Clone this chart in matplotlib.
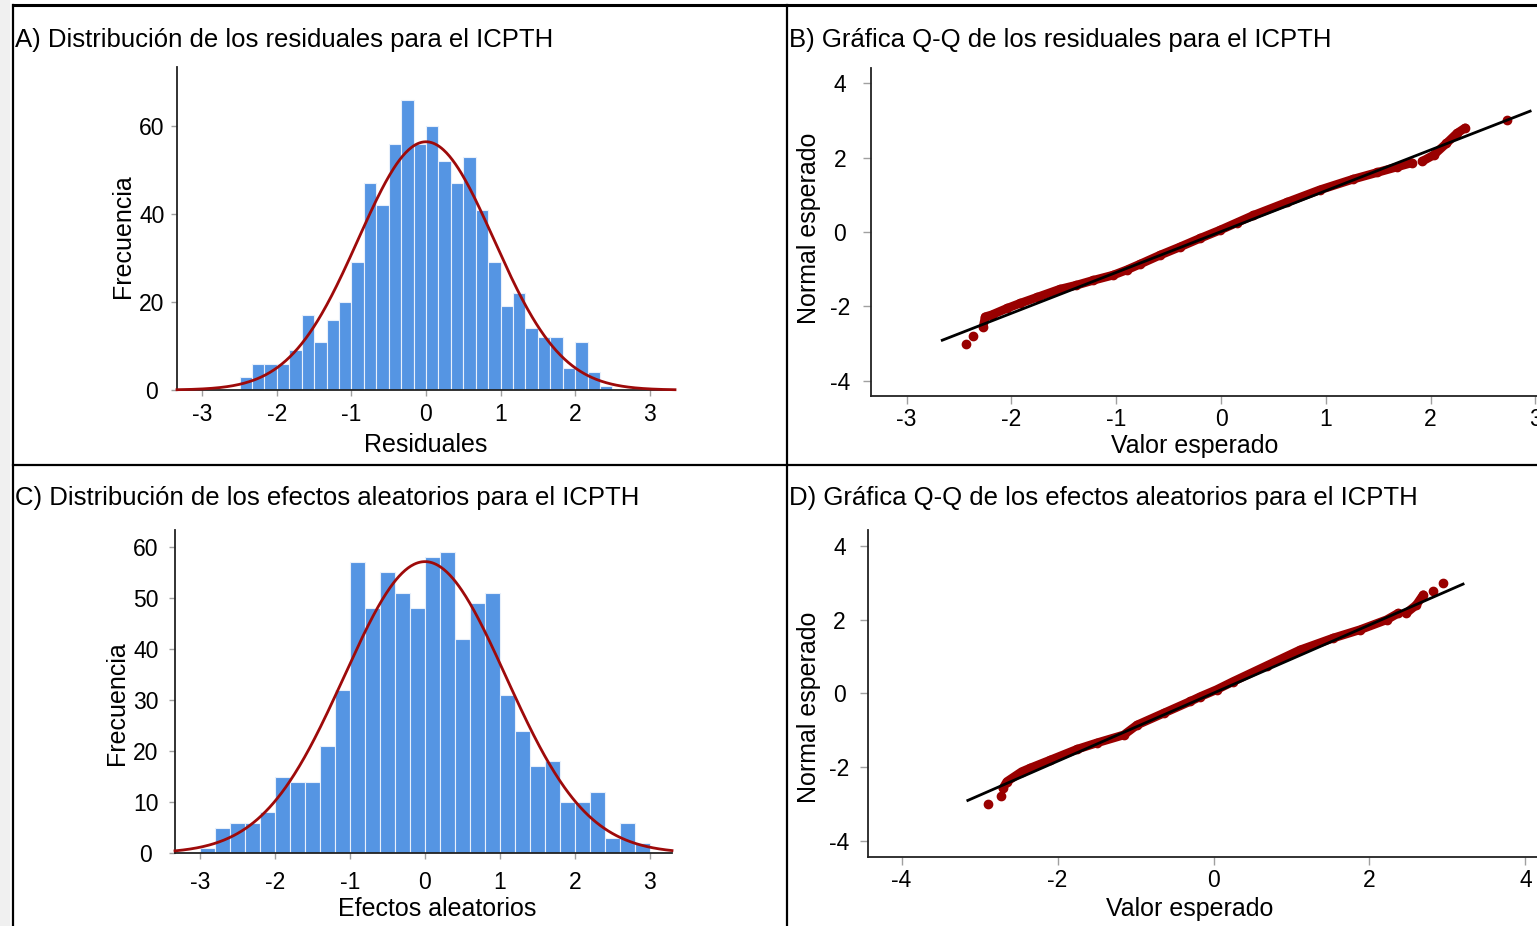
import numpy as np
import matplotlib.pyplot as plt
from matplotlib.lines import Line2D
from matplotlib.patches import Rectangle

plt.rcParams['font.family'] = ['Liberation Sans', 'DejaVu Sans']
plt.rcParams['axes.unicode_minus'] = False

W, H = 1537, 926

# A) residuales: histograma
res_edges = np.linspace(-2.5, 2.5, 31)
res_counts = [3, 6, 6, 6, 9, 17, 11, 16, 20, 29, 47, 42, 56, 66, 56,
              60, 52, 47, 53, 41, 29, 19, 22, 14, 12, 12, 5, 11, 4, 1]
res_mean, res_sd = 0.0, 0.91

# C) efectos aleatorios: histograma
eff_edges = np.linspace(-3.0, 3.0, 31)
eff_counts = [1, 5, 6, 6, 8, 15, 14, 14, 21, 32, 57, 48, 55, 51, 48,
              58, 59, 42, 49, 51, 31, 24, 17, 18, 10, 10, 12, 3, 6, 2]
eff_mean, eff_sd = 0.0, 1.08

# B) Q-Q residuales (valor esperado, normal esperado)
qq_b_x = [-2.27, -2.25, -2.19, -2.04, -1.92, -1.76, -1.54, -1.38, -1.22, -1.03,
          -0.90, -0.77, -0.58, -0.39, -0.20, -0.01, 0.15, 0.31, 0.63, 0.94,
          1.26, 1.49, 1.68, 1.82, np.nan, 1.92, 2.03, 2.15, 2.25, 2.33]
qq_b_y = [-2.55, -2.28, -2.23, -2.05, -1.92, -1.76, -1.54, -1.43, -1.30, -1.16,
          -1.02, -0.86, -0.62, -0.40, -0.17, 0.05, 0.25, 0.45, 0.80, 1.13,
          1.42, 1.60, 1.75, 1.86, np.nan, 1.90, 2.07, 2.38, 2.65, 2.80]
qq_b_tail_x = [-2.43, -2.37, 2.73]
qq_b_tail_y = [-3.01, -2.80, 3.01]
qq_b_line_x = [-2.66, 2.95]
qq_b_line_y = [-2.91, 3.25]

# D) Q-Q efectos aleatorios
qq_d_x = [-2.70, -2.65, -2.46, -2.35, -2.09, -1.75, -1.50, -1.15, -0.98, -0.64,
          -0.30, -0.17, 0.04, 0.25, 0.68, 1.11, 1.53, 1.88, 2.22, 2.37,
          np.nan, 2.47, 2.60, 2.69]
qq_d_y = [-2.58, -2.40, -2.13, -2.03, -1.81, -1.52, -1.35, -1.13, -0.86, -0.54,
          -0.22, -0.09, 0.10, 0.32, 0.75, 1.18, 1.50, 1.73, 2.00, 2.18,
          np.nan, 2.18, 2.40, 2.68]
qq_d_tail_x = [-2.89, -2.72, 2.81, 2.94]
qq_d_tail_y = [-3.01, -2.80, 2.79, 3.01]
qq_d_line_x = [-3.15, 3.20]
qq_d_line_y = [-2.91, 2.97]

BAR = '#5595e3'
CURVE = '#9e0a0a'
PTS = '#990000'
FS_TICK = 16.5
FS_LAB = 18
FS_TITLE = 18.5

fig = plt.figure(figsize=(W / 100, H / 100), dpi=100)


def fx(x):
    return x / W


def fy(y):
    return 1 - y / H


def px_axes(l, t, r, b):
    return fig.add_axes([l / W, 1 - b / H, (r - l) / W, (b - t) / H])


def style(ax, ticklen, ypad, xpad):
    for s in ['top', 'right']:
        ax.spines[s].set_visible(False)
    for s in ['left', 'bottom']:
        ax.spines[s].set_color('#222222')
        ax.spines[s].set_linewidth(1.3)
    ax.tick_params(axis='both', direction='out', length=ticklen, width=1.0,
                   color='#a0a0a0', labelsize=FS_TICK, labelcolor='black')
    ax.tick_params(axis='y', pad=ypad)
    ax.tick_params(axis='x', pad=xpad)
    for lab in ax.get_yticklabels():
        lab.set_horizontalalignment('center')
    ax.set_facecolor('none')


def hist_panel(ax, edges, counts, mean, sd, xlim, ylim, yticks):
    edges = np.asarray(edges)
    widths = np.diff(edges)
    ax.bar(edges[:-1], counts, width=widths, align='edge', color=BAR,
           edgecolor='#e8f0fb', linewidth=0.8, zorder=2)
    xs = np.linspace(xlim[0], xlim[1], 500)
    n = sum(counts)
    ys = n * widths[0] * np.exp(-0.5 * ((xs - mean) / sd) ** 2) / (sd * np.sqrt(2 * np.pi))
    ax.plot(xs, ys, color=CURVE, lw=2.0, zorder=3, clip_on=False)
    ax.set_xlim(*xlim)
    ax.set_ylim(*ylim)
    ax.set_xticks(range(-3, 4))
    ax.set_yticks(yticks)


def qq_panel(ax, bx, by, tx, ty, lx, ly, xlim, ylim, xticks):
    ax.plot(bx, by, color=PTS, lw=6.3, solid_capstyle='round', zorder=2)
    ax.plot(bx, by, 'o', color=PTS, ms=6, zorder=2)
    ax.plot(tx, ty, 'o', color=PTS, ms=6, zorder=2)
    ax.plot(lx, ly, color='black', lw=2.0, zorder=3)
    ax.set_xlim(*xlim)
    ax.set_ylim(*ylim)
    ax.set_xticks(xticks)
    ax.set_yticks([-4, -2, 0, 2, 4])


# A
axA = px_axes(177, 67, 675, 390)
hist_panel(axA, res_edges, res_counts, res_mean, res_sd, (-3.34, 3.34), (0, 73.4), [0, 20, 40, 60])
style(axA, 4.5, 13.5, 5.2)

# C
axC = px_axes(175, 530, 672, 853.3)
hist_panel(axC, eff_edges, eff_counts, eff_mean, eff_sd, (-3.34, 3.30), (0, 63.3), list(range(0, 61, 10)))
style(axC, 4.5, 16.5, 8)

# B
axB = px_axes(871, 68, 1571, 396)
qq_panel(axB, qq_b_x, qq_b_y, qq_b_tail_x, qq_b_tail_y, qq_b_line_x, qq_b_line_y,
         (-3.34, 3.34), (-4.41, 4.41), range(-3, 4))
style(axB, 5.5, 17, 3)

# D
axD = px_axes(868, 530, 1559, 856.7)
qq_panel(axD, qq_d_x, qq_d_y, qq_d_tail_x, qq_d_tail_y, qq_d_line_x, qq_d_line_y,
         (-4.43, 4.43), (-4.44, 4.44), [-4, -2, 0, 2, 4])
style(axD, 5.5, 15, 3)

# titles
titles = [
    (15, 47, 'A) Distribución de los residuales para el ICPTH'),
    (789, 47, 'B) Gráfica Q-Q de los residuales para el ICPTH'),
    (15, 505, 'C) Distribución de los efectos aleatorios para el ICPTH'),
    (789, 505, 'D) Gráfica Q-Q de los efectos aleatorios para el ICPTH'),
]
for x, y, t in titles:
    fig.text(fx(x), fy(y), t, fontsize=FS_TITLE, ha='left', va='baseline')

# axis labels
fig.text(fx(426), fy(452), 'Residuales', fontsize=FS_LAB, ha='center', va='baseline')
fig.text(fx(1195), fy(453), 'Valor esperado', fontsize=FS_LAB, ha='center', va='baseline')
fig.text(fx(437), fy(916), 'Efectos aleatorios', fontsize=FS_LAB, ha='center', va='baseline')
fig.text(fx(1190), fy(916), 'Valor esperado', fontsize=FS_LAB, ha='center', va='baseline')
fig.text(fx(130), fy(236), 'Frecuencia', fontsize=FS_LAB, rotation=90,
         rotation_mode='anchor', ha='center', va='baseline')
fig.text(fx(124), fy(703), 'Frecuencia', fontsize=FS_LAB, rotation=90,
         rotation_mode='anchor', ha='center', va='baseline')
fig.text(fx(816), fy(228), 'Normal esperado', fontsize=FS_LAB, rotation=90,
         rotation_mode='anchor', ha='center', va='baseline')
fig.text(fx(816), fy(707), 'Normal esperado', fontsize=FS_LAB, rotation=90,
         rotation_mode='anchor', ha='center', va='baseline')

# frame lines
fig.add_artist(Rectangle((0, 0), fx(9), 1, transform=fig.transFigure,
                         color='#f0f0f0', zorder=0))
frame = [
    ((13, 5), (W, 5), 2.2),
    ((13, 5), (13, H), 1.6),
    ((787, 5), (787, H), 1.6),
    ((13, 465), (W, 465), 1.6),
]
for (x0, y0), (x1, y1), lw in frame:
    fig.add_artist(Line2D([fx(x0), fx(x1)], [fy(y0), fy(y1)], transform=fig.transFigure,
                          color='black', lw=lw))

fig.savefig('out.png', dpi=100)
